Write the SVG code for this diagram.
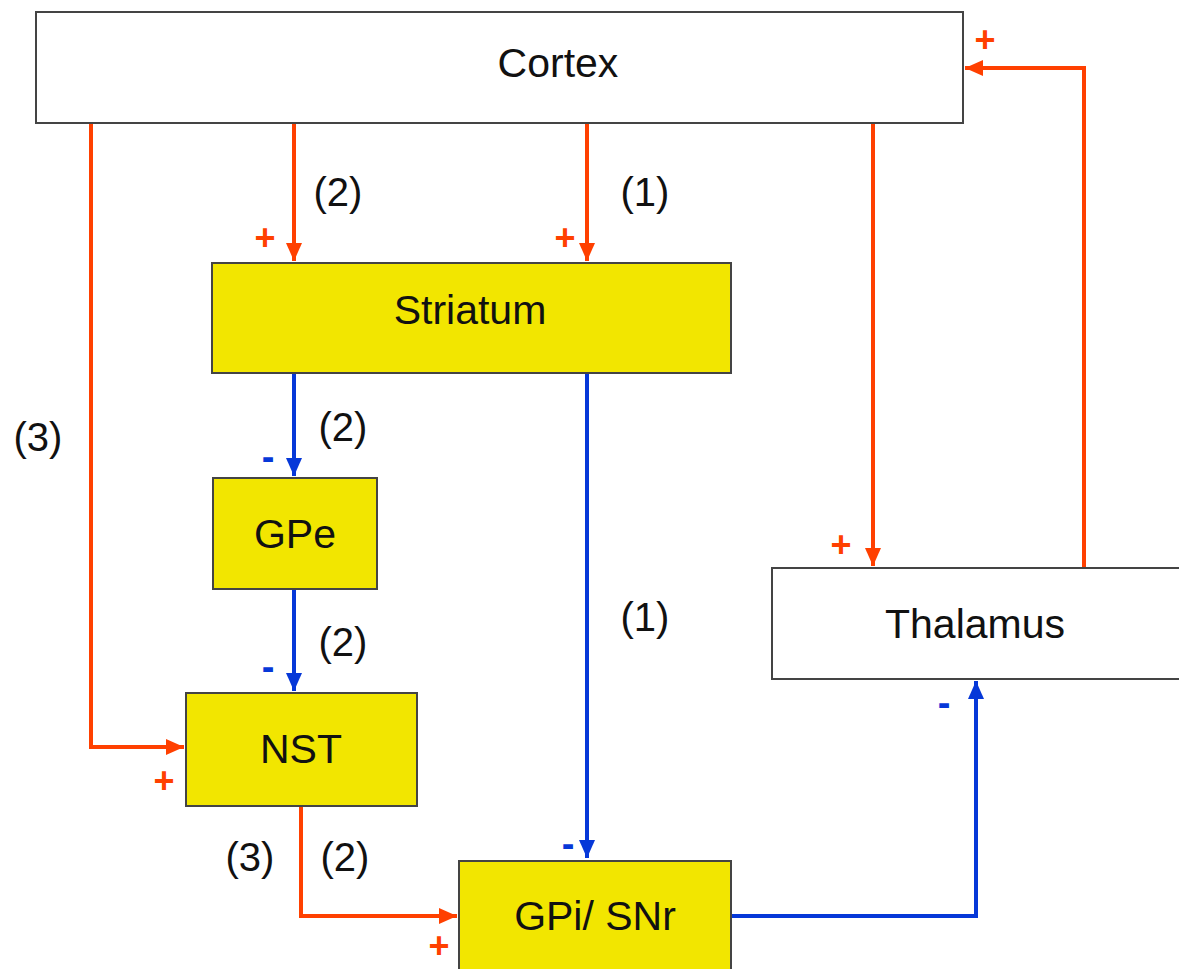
<svg xmlns="http://www.w3.org/2000/svg" width="1179" height="969" viewBox="0 0 1179 969">
<style>
.box{stroke:#444;stroke-width:2}
.w{fill:#fff}
.y{fill:#f2e600}
.t{font-family:"Liberation Sans",Arial,sans-serif;font-size:41px;fill:#111;text-anchor:middle}
.l{font-family:"Liberation Sans",Arial,sans-serif;font-size:40px;fill:#111;text-anchor:middle}
.r{fill:none;stroke:#ff4000;stroke-width:4}
.b{fill:none;stroke:#0638d8;stroke-width:4}
.p{font-family:"Liberation Sans",Arial,sans-serif;font-size:36px;font-weight:bold;fill:#ff4000;text-anchor:middle}
.m{font-family:"Liberation Sans",Arial,sans-serif;font-size:38px;font-weight:bold;fill:#0638d8;text-anchor:middle}
</style>
<defs>
<marker id="ar" markerWidth="4.5" markerHeight="4" refX="4.5" refY="2" orient="auto" markerUnits="strokeWidth"><path d="M0,0 L4.5,2 L0,4 z" fill="#ff4000"/></marker>
<marker id="ab" markerWidth="4.5" markerHeight="4" refX="4.5" refY="2" orient="auto" markerUnits="strokeWidth"><path d="M0,0 L4.5,2 L0,4 z" fill="#0638d8"/></marker>
</defs>
<rect width="1179" height="969" fill="#fff"/>
<g id="connectors">
<path class="r" d="M91,123 V747 H184" marker-end="url(#ar)"/>
<path class="r" d="M294,123 V261" marker-end="url(#ar)"/>
<path class="r" d="M587,123 V261" marker-end="url(#ar)"/>
<path class="r" d="M873,123 V566" marker-end="url(#ar)"/>
<path class="r" d="M1084,568 V68 H965" marker-end="url(#ar)"/>
<path class="b" d="M294,373 V476" marker-end="url(#ab)"/>
<path class="b" d="M294,589 V691" marker-end="url(#ab)"/>
<path class="b" d="M587,373 V858" marker-end="url(#ab)"/>
<path class="r" d="M301,806 V916 H457" marker-end="url(#ar)"/>
<path class="b" d="M731,916 H976 V681" marker-end="url(#ab)"/>
</g>
<g id="cortex"><rect class="box w" x="36" y="12" width="927" height="111"/><text class="t" x="558" y="77">Cortex</text></g>
<g id="striatum"><rect class="box y" x="212" y="263" width="519" height="110"/><text class="t" x="470" y="324">Striatum</text></g>
<g id="gpe"><rect class="box y" x="213" y="478" width="164" height="111"/><text class="t" x="295" y="548">GPe</text></g>
<g id="nst"><rect class="box y" x="186" y="693" width="231" height="113"/><text class="t" x="301" y="763">NST</text></g>
<g id="gpi"><rect class="box y" x="459" y="861" width="272" height="120"/><text class="t" x="595" y="930">GPi/ SNr</text></g>
<g id="thalamus"><rect class="box w" x="772" y="568" width="420" height="111"/><text class="t" x="975" y="638">Thalamus</text></g>
<g id="labels">
<text class="l" x="338" y="206">(2)</text>
<text class="l" x="645" y="206">(1)</text>
<text class="l" x="38" y="451">(3)</text>
<text class="l" x="343" y="441">(2)</text>
<text class="l" x="343" y="656">(2)</text>
<text class="l" x="645" y="631">(1)</text>
<text class="l" x="250" y="871">(3)</text>
<text class="l" x="345" y="871">(2)</text>
<text class="p" x="265" y="250">+</text>
<text class="p" x="565" y="250">+</text>
<text class="p" x="985" y="52">+</text>
<text class="p" x="841" y="557">+</text>
<text class="p" x="164" y="793">+</text>
<text class="p" x="439" y="958">+</text>
<text class="m" x="268" y="470">-</text>
<text class="m" x="268" y="680">-</text>
<text class="m" x="568" y="857">-</text>
<text class="m" x="944" y="716">-</text>
</g>
</svg>
